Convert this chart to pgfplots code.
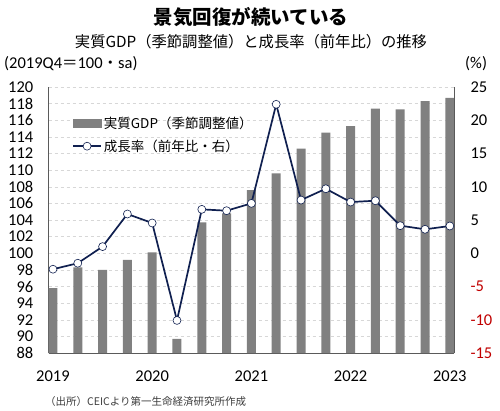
\documentclass[border=0pt]{standalone}
\usepackage{fontspec}
\setmainfont{Carlito}
\newfontfamily\jp{Noto Sans CJK JP}
\usepackage{pgfplots}
\pgfplotsset{compat=1.18}
\definecolor{barGray}{RGB}{128,128,128}
\definecolor{navy}{RGB}{16,32,80}
\definecolor{negred}{RGB}{192,0,0}
\definecolor{gridGray}{RGB}{215,215,215}
\definecolor{axGray}{RGB}{90,90,90}
\pgfplotsset{
  barlegend/.style={legend image code/.code={\fill[barGray] (0pt,-4pt) rectangle (28pt,4pt);}},
  linelegend/.style={legend image code/.code={\draw[mark repeat=2,mark phase=2,##1] plot coordinates {(0pt,0pt) (14pt,0pt) (28pt,0pt)};}},
}
\begin{document}
\begin{tikzpicture}[x=1pt,y=1pt]
\path[use as bounding box] (0,0) rectangle (500,410);
% titles
\node[anchor=center,font={\jp\bfseries\fontsize{19.5}{22}\selectfont}] at (251,393) {景気回復が続いている};
\node[anchor=center,font={\jp\fontsize{15.3}{18}\selectfont}] at (251,368) {実質GDP（季節調整値）と成長率（前年比）の推移};
\node[anchor=west,inner sep=0pt,font={\fontsize{16.5}{18}\selectfont}] at (4,346) {(2019Q4{\jp\fontsize{15.5}{16}\selectfont＝}100{\jp\fontsize{15.5}{16}\selectfont・}sa)};
\node[anchor=west,inner sep=0pt,font={\fontsize{16.5}{18}\selectfont}] at (465,346) {(\%)};
\node[anchor=west,inner sep=0pt,font={\jp\fontsize{10.5}{12}\selectfont},text={rgb,255:red,60;green,60;blue,60}] at (45,8) {（出所）CEICより第一生命経済研究所作成};

\begin{axis}[
  at={(48.5pt,57pt)}, anchor=south west,
  scale only axis, width=405.8pt, height=266pt,
  xmin=-0.18, xmax=16.18, ymin=88, ymax=120,
  axis x line*=bottom, axis y line*=left,
  axis line style={axGray, line width=0.8pt},
  major tick length=0pt,
  ytick={88,90,...,120},
  xtick={0,4,8,12,16},
  xticklabels={2019,2020,2021,2022,2023},
  /pgf/number format/assume math mode=true,
  ymajorgrids,
  major grid style={gridGray, dashed, line width=0.5pt},
  yticklabel style={anchor=east, inner sep=0pt, xshift=-15pt, font={\fontsize{16.5}{18}\selectfont}},
  xticklabel style={anchor=base, inner sep=0pt, yshift=-28pt, font={\fontsize{16.5}{18}\selectfont}},
]
\addplot[ybar, bar width=9pt, fill=barGray, draw=none] coordinates {
(0,95.8) (1,98.3) (2,98.0) (3,99.2) (4,100.1) (5,89.7) (6,103.7) (7,104.8) (8,107.6)
(9,109.6) (10,112.6) (11,114.5) (12,115.3) (13,117.4) (14,117.3) (15,118.3) (16,118.7)
};
\end{axis}

\begin{axis}[
  at={(48.5pt,57pt)}, anchor=south west,
  scale only axis, width=405.8pt, height=266pt,
  xmin=-0.18, xmax=16.18, ymin=-15, ymax=25,
  axis x line=none, axis y line*=right,
  axis line style={axGray, line width=0.8pt},
  major tick length=0pt,
  ytick={-15,-10,...,25},
  yticklabels={{\color{negred}-15},{\color{negred}-10},{\color{negred}-5},0,5,10,15,20,25},
  yticklabel style={anchor=west, inner sep=0pt, xshift=16pt, font={\fontsize{16.5}{18}\selectfont}},
  clip=false,
  legend style={at={(0.058,0.897)}, anchor=north west, draw=none, fill=none,
     font={\jp\fontsize{13.5}{15}\selectfont}, row sep=6pt, inner sep=0pt,
     /tikz/every even column/.append style={column sep=2pt}},
  legend cell align=left,
]
\addlegendimage{barlegend}
\addlegendentry{実質GDP（季節調整値）}
\addplot[navy, line width=1.7pt, mark=*, mark size=4pt,
  mark options={fill=white, draw=navy, line width=0.6pt}, linelegend]
 coordinates {
(0,-2.4) (1,-1.5) (2,1.0) (3,5.9) (4,4.55) (5,-10.1) (6,6.6) (7,6.4) (8,7.5)
(9,22.4) (10,8.0) (11,9.7) (12,7.7) (13,7.9) (14,4.15) (15,3.6) (16,4.1)
};
\addlegendentry{成長率（前年比・右）}
\end{axis}
\end{tikzpicture}
\end{document}
